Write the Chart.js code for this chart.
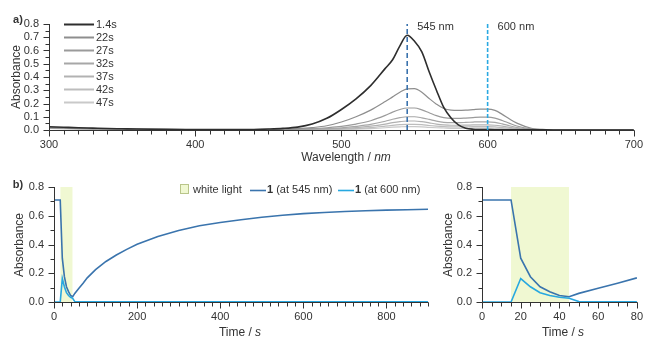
<!DOCTYPE html>
<html><head><meta charset="utf-8">
<script src="https://cdn.jsdelivr.net/npm/chart.js@4/dist/chart.umd.min.js"></script>
<style>
html,body{margin:0;padding:0;background:#fff;width:651px;height:337px;overflow:hidden}
canvas{position:absolute;display:block}
</style></head><body>
<canvas id="ca" width="651" height="170" style="left:0;top:0"></canvas>
<canvas id="cb" width="440" height="167" style="left:0;top:170px"></canvas>
<canvas id="cc" width="211" height="167" style="left:440px;top:170px"></canvas>
<script>
// ---------- data ----------
const wavelengths = [300,310,320,330,340,350,360,380,400,420,440,450,460,470,480,490,500,510,520,530,535,540,545,550,555,560,565,570,575,580,585,590,595,600,605,610,615,620,630,640,650,670,700];
const spec_1_4s = [0.025,0.021,0.017,0.014,0.011,0.009,0.007,0.005,0.004,0.003,0.004,0.007,0.012,0.022,0.045,0.088,0.155,0.235,0.335,0.465,0.53,0.635,0.715,0.67,0.59,0.44,0.30,0.17,0.09,0.038,0.014,0.006,0.004,0.003,0.002,0.002,0.002,0.001,0.001,0.001,0,0,0];
const spec_22s = [0.02,0.016,0.013,0.011,0.009,0.007,0.006,0.004,0.003,0.002,0.003,0.004,0.006,0.01,0.018,0.032,0.06,0.1,0.15,0.215,0.25,0.285,0.31,0.312,0.285,0.238,0.195,0.162,0.15,0.148,0.15,0.154,0.158,0.158,0.148,0.118,0.083,0.052,0.013,0.003,0.001,0,0];
const spec_27s = [0.018,0.015,0.012,0.01,0.008,0.006,0.005,0.003,0.002,0.002,0.002,0.003,0.004,0.006,0.01,0.017,0.027,0.045,0.07,0.11,0.135,0.155,0.166,0.166,0.152,0.13,0.108,0.093,0.087,0.087,0.09,0.094,0.097,0.097,0.09,0.072,0.05,0.03,0.008,0.002,0.001,0,0];
const spec_32s = [0.016,0.013,0.011,0.009,0.007,0.005,0.004,0.003,0.002,0.001,0.001,0.002,0.003,0.004,0.006,0.01,0.016,0.027,0.042,0.066,0.081,0.093,0.1,0.1,0.092,0.08,0.067,0.058,0.055,0.055,0.057,0.06,0.062,0.062,0.058,0.046,0.032,0.019,0.005,0.001,0,0,0];
const spec_37s = [0.014,0.012,0.01,0.008,0.006,0.005,0.004,0.002,0.002,0.001,0.001,0.001,0.002,0.003,0.004,0.007,0.011,0.018,0.029,0.045,0.055,0.063,0.068,0.068,0.063,0.054,0.045,0.039,0.036,0.036,0.037,0.038,0.039,0.039,0.036,0.029,0.02,0.012,0.003,0.001,0,0,0];
const spec_42s = [0.013,0.011,0.009,0.007,0.006,0.004,0.003,0.002,0.001,0.001,0.001,0.001,0.001,0.002,0.003,0.004,0.007,0.011,0.018,0.029,0.035,0.04,0.043,0.043,0.04,0.034,0.029,0.025,0.023,0.023,0.024,0.025,0.025,0.025,0.023,0.018,0.013,0.008,0.002,0.001,0,0,0];
const spec_47s = [0.012,0.01,0.008,0.007,0.005,0.004,0.003,0.002,0.001,0.001,0.001,0.001,0.001,0.001,0.002,0.003,0.004,0.007,0.011,0.017,0.021,0.024,0.026,0.026,0.024,0.02,0.017,0.015,0.013,0.013,0.013,0.014,0.014,0.014,0.013,0.01,0.007,0.004,0.001,0,0,0,0];
const specLabels = ['1.4s','22s','27s','32s','37s','42s','47s'];
const markerWavelengths = [545, 600];
const markerLabels = ['545 nm', '600 nm'];

const times = [0,5,10,15,20,25,30,35,40,45,50,60,70,80,100,125,150,175,200,250,300,350,400,450,500,550,600,650,700,750,800,850,900];
const abs545 = [0.71,0.71,0.71,0.71,0.305,0.176,0.106,0.072,0.045,0.037,0.06,0.095,0.13,0.168,0.225,0.282,0.327,0.366,0.402,0.456,0.497,0.53,0.553,0.572,0.59,0.604,0.615,0.623,0.63,0.635,0.639,0.642,0.645];
const abs600 = [0,0,0,0,0.163,0.106,0.065,0.045,0.033,0.026,0.003,0.002,0.002,0.002,0.002,0.002,0.002,0.002,0.002,0.002,0.002,0.002,0.002,0.002,0.002,0.002,0.002,0.002,0.002,0.002,0.002,0.002,0.002];
const whiteLight = [15, 45];
const whiteLightLevel = 0.8;
const seriesLabelsB = ['white light', '1 (at 545 nm)', '1 (at 600 nm)'];

const ticksA_X = [300,400,500,600,700];
const ticksA_Y = [0,0.1,0.2,0.3,0.4,0.5,0.6,0.7,0.8];
const ticksB_X = [0,200,400,600,800];
const ticksC_X = [0,20,40,60,80];
const ticksB_Y = [0,0.2,0.4,0.6,0.8];

// ---------- styles ----------
const FONT = "'Liberation Sans', Arial, sans-serif";
const TXT = '#333';
const AX = '#333333';
const specColors = ['#2e2e2e','#8e8e8e','#9b9b9b','#a7a7a7','#b2b2b2','#bdbdbd','#c9c9c9'];
const markerColors = ['#3a72ad','#2aa9e2'];
const markerDash = [[5,3],[4,2]];
const C545 = '#3a74ad', C600 = '#27a8e0', LIGHT = '#f0f8d2', LIGHTB = '#b9c58a';

Chart.defaults.font.family = FONT;
Chart.defaults.color = TXT;
Chart.defaults.animation = false;

function fmt1(v){ return Number(v).toFixed(1); }

function richText(ctx, parts, cx, cy, rot){
  ctx.save();
  ctx.translate(cx, cy);
  if (rot) ctx.rotate(rot);
  let w = 0;
  parts.forEach(p => { ctx.font = p.f; w += ctx.measureText(p.t).width; });
  let x = -w/2;
  ctx.textBaseline = 'middle';
  ctx.textAlign = 'left';
  ctx.fillStyle = TXT;
  parts.forEach(p => { ctx.font = p.f; ctx.fillText(p.t, x, 0); x += ctx.measureText(p.t).width; });
  ctx.restore();
}

function ticksOf(s){ return (s.ticks || []).map(t => t.value); }
function near(arr, v, eps){ return arr.some(m => Math.abs(m - v) < eps); }

// axis lines + major/minor ticks (minor step given per chart)
function makeAxesPlugin(xMinor, yMinor){
  return {
    id: 'axesTicks',
    afterDraw(chart){
      const ctx = chart.ctx, ca = chart.chartArea;
      const xs = chart.scales.x, ys = chart.scales.y;
      const majX = ticksOf(xs), majY = ticksOf(ys);
      ctx.save();
      ctx.setLineDash([]);
      ctx.strokeStyle = AX; ctx.lineWidth = 1;
      const L = Math.round(ca.left) + 0.5, B = Math.round(ca.bottom) + 0.5;
      ctx.beginPath();
      ctx.moveTo(L, Math.round(ca.top)); ctx.lineTo(L, B);
      ctx.lineTo(Math.round(ca.right) + 0.5, B);
      ctx.stroke();
      const nx = Math.round((xs.max - xs.min) / xMinor);
      for (let i = 0; i <= nx; i++) {
        const v = xs.min + i * xMinor;
        const px = Math.round(xs.getPixelForValue(v)) + 0.5;
        const len = near(majX, v, xMinor / 10) ? 6 : 4;
        ctx.beginPath(); ctx.moveTo(px, B); ctx.lineTo(px, B + len); ctx.stroke();
      }
      const ny = Math.round((ys.max - ys.min) / yMinor);
      for (let i = 0; i <= ny; i++) {
        const v = ys.min + i * yMinor;
        const py = Math.round(ys.getPixelForValue(v)) + 0.5;
        const len = near(majY, v, yMinor / 10) ? 6 : 4;
        ctx.beginPath(); ctx.moveTo(L, py); ctx.lineTo(L - len, py); ctx.stroke();
      }
      ctx.restore();
    }
  };
}

function makeTextPlugin(items){
  return { id: 'texts', afterDraw(chart){ items.forEach(it => richText(chart.ctx, it.parts, it.x, it.y, it.rot || 0)); } };
}

function linScale(min, max, ticks, width, height, pad, isX){
  return {
    type: 'linear', min: min, max: max,
    grid: { display: false, drawTicks: false },
    border: { display: false },
    afterBuildTicks: s => { s.ticks = ticks.map(v => ({ value: v })); },
    afterFit: s => { if (isX) s.height = height; else s.width = width; },
    ticks: { padding: pad, color: TXT, font: { size: 11, family: FONT },
      autoSkip: false, maxRotation: 0,
      callback: isX ? (v => String(v)) : fmt1 }
  };
}

// ---------- chart a ----------
const specSeries = [spec_1_4s, spec_22s, spec_27s, spec_32s, spec_37s, spec_42s, spec_47s];
const dsA = [];
markerWavelengths.forEach((w, i) => dsA.push({
  label: markerLabels[i], data: [{x: w, y: 0}, {x: w, y: 0.81}],
  borderColor: markerColors[i], borderWidth: 1.6, borderDash: markerDash[i],
  pointRadius: 0, fill: false, order: 0
}));
specSeries.forEach((s, i) => {
  dsA.push({
    label: specLabels[i], data: wavelengths.map((w, j) => ({x: w, y: s[j]})),
    borderColor: specColors[i], borderWidth: i === 0 ? 1.6 : 1.2,
    pointRadius: 0, cubicInterpolationMode: 'monotone', fill: false, order: 1 + i
  });
});

const legendA = {
  id: 'legendA',
  afterDraw(chart){
    const ctx = chart.ctx;
    ctx.save();
    ctx.setLineDash([]);
    specLabels.forEach((lab, i) => {
      const y = 24 + i * 13;
      ctx.strokeStyle = specColors[i]; ctx.lineWidth = 2;
      ctx.beginPath(); ctx.moveTo(64, y + 0.5); ctx.lineTo(94, y + 0.5); ctx.stroke();
      ctx.fillStyle = TXT; ctx.font = '11px ' + FONT; ctx.textBaseline = 'middle'; ctx.textAlign = 'left';
      ctx.fillText(lab, 96, y + 1);
    });
    const xs = chart.scales.x;
    markerWavelengths.forEach((w, i) => {
      ctx.fillText(markerLabels[i], xs.getPixelForValue(w) + 10, 27);
    });
    ctx.restore();
  }
};

new Chart(document.getElementById('ca'), {
  type: 'line',
  data: { datasets: dsA },
  options: {
    responsive: false, animation: false,
    layout: { padding: { left: 0, right: 10, top: 24, bottom: 0 } },
    plugins: { legend: { display: false }, tooltip: { enabled: false } },
    scales: {
      x: linScale(300, 700, ticksA_X, 0, 40, 8, true),
      y: linScale(0, 0.8, ticksA_Y, 49, 0, 10, false)
    }
  },
  plugins: [makeAxesPlugin(10, 0.05), makeTextPlugin([
    { parts: [{t: 'a)', f: 'bold 11px ' + FONT}], x: 18, y: 20 },
    { parts: [{t: 'Absorbance', f: '12px ' + FONT}], x: 17, y: 77, rot: -Math.PI/2 },
    { parts: [{t: 'Wavelength / ', f: '12px ' + FONT}, {t: 'nm', f: 'italic 12px ' + FONT}], x: 346, y: 158 }
  ]), legendA]
});

// ---------- charts b ----------
function dsB(){
  return [
    { label: seriesLabelsB[0], data: [{x: whiteLight[0], y: whiteLightLevel}, {x: whiteLight[1], y: whiteLightLevel}],
      borderWidth: 0, borderColor: 'rgba(0,0,0,0)', backgroundColor: LIGHT, fill: 'origin', pointRadius: 0, order: 3 },
    { label: seriesLabelsB[1], data: times.map((t, i) => ({x: t, y: abs545[i]})),
      borderColor: C545, borderWidth: 1.6, pointRadius: 0, fill: false, order: 2 },
    { label: seriesLabelsB[2], data: times.map((t, i) => ({x: t, y: abs600[i]})),
      borderColor: C600, borderWidth: 1.6, pointRadius: 0, fill: false, order: 1 }
  ];
}

const legendB = {
  id: 'legendB',
  afterDraw(chart){
    const ctx = chart.ctx;
    ctx.save();
    const y = 20;
    ctx.fillStyle = LIGHT; ctx.strokeStyle = LIGHTB; ctx.lineWidth = 1;
    ctx.fillRect(180.5, y - 5.5, 8, 9); ctx.strokeRect(180.5, y - 5.5, 8, 9);
    ctx.font = '11px ' + FONT; ctx.fillStyle = TXT; ctx.textBaseline = 'middle'; ctx.textAlign = 'left';
    ctx.fillText(seriesLabelsB[0], 193, y);
    const entries = [[C545, 250, seriesLabelsB[1]], [C600, 338, seriesLabelsB[2]]];
    entries.forEach(([c, x0, lab]) => {
      ctx.strokeStyle = c; ctx.lineWidth = 1.6;
      ctx.beginPath(); ctx.moveTo(x0, y + 0.5); ctx.lineTo(x0 + 16, y + 0.5); ctx.stroke();
      const first = lab.slice(0, 1), rest = lab.slice(1);
      ctx.fillStyle = TXT;
      ctx.font = 'bold 11px ' + FONT; ctx.fillText(first, x0 + 17, y);
      const w = ctx.measureText(first).width;
      ctx.font = '11px ' + FONT; ctx.fillText(rest, x0 + 17 + w, y);
    });
    ctx.restore();
  }
};

new Chart(document.getElementById('cb'), {
  type: 'line',
  data: { datasets: dsB() },
  options: {
    responsive: false, animation: false,
    layout: { padding: { left: 0, right: 12, top: 17, bottom: 0 } },
    plugins: { legend: { display: false }, tooltip: { enabled: false } },
    scales: {
      x: linScale(0, 900, ticksB_X, 0, 35, 8, true),
      y: linScale(0, 0.8, ticksB_Y, 54, 0, 10, false)
    }
  },
  plugins: [makeAxesPlugin(20, 0.1), makeTextPlugin([
    { parts: [{t: 'b)', f: 'bold 11px ' + FONT}], x: 18, y: 15 },
    { parts: [{t: 'Absorbance', f: '12px ' + FONT}], x: 20, y: 75, rot: -Math.PI/2 },
    { parts: [{t: 'Time / ', f: '12px ' + FONT}, {t: 's', f: 'italic 12px ' + FONT}], x: 240, y: 163 }
  ]), legendB]
});

new Chart(document.getElementById('cc'), {
  type: 'line',
  data: { datasets: dsB() },
  options: {
    responsive: false, animation: false,
    layout: { padding: { left: 0, right: 8, top: 17, bottom: 0 } },
    plugins: { legend: { display: false }, tooltip: { enabled: false } },
    scales: {
      x: linScale(0, 80, ticksC_X, 0, 35, 8, true),
      y: linScale(0, 0.8, ticksB_Y, 42, 0, 10, false)
    }
  },
  plugins: [makeAxesPlugin(5, 0.1), makeTextPlugin([
    { parts: [{t: 'Absorbance', f: '12px ' + FONT}], x: 9, y: 75, rot: -Math.PI/2 },
    { parts: [{t: 'Time / ', f: '12px ' + FONT}, {t: 's', f: 'italic 12px ' + FONT}], x: 123, y: 163 }
  ])]
});
</script>
</body></html>
